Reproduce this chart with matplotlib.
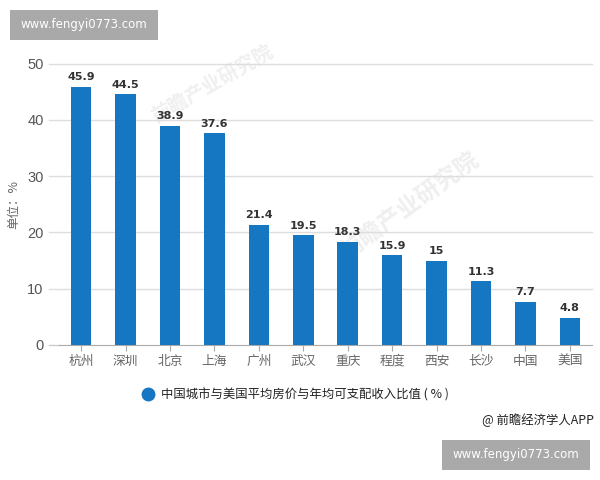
import matplotlib
matplotlib.use('Agg')
from matplotlib import pyplot as plt
from matplotlib.patches import Rectangle

plt.rcParams['font.family'] = ['Noto Sans CJK SC', 'DejaVu Sans']

cities = ['杭州', '深圳', '北京', '上海', '广州', '武汉', '重庆', '程度', '西安', '长沙', '中国', '美国']
ratios = [45.9, 44.5, 38.9, 37.6, 21.4, 19.5, 18.3, 15.9, 15, 11.3, 7.7, 4.8]
yticks = [0, 10, 20, 30, 40, 50]
blue = '#1576c2'
W, H = 600, 480

fig = plt.figure(figsize=(6, 4.8), dpi=100)
# plot area in pixels: x 59-592, y 63.5-345
ax = fig.add_axes([59/W, 1-345/H, (592-59)/W, (345-63.5)/H])
ax.set_zorder(2)

# faint watermark behind the bars
for x, y, size, rot, txt in [(212, 84, 14, 30, '前瞻产业研究院'), (410, 206, 17, 36, '前瞻产业研究院')]:
    fig.text(x/W, 1-y/H, txt, color='#efefef', fontsize=size, rotation=rot,
             ha='center', va='center', weight='bold', zorder=0)

ax.patch.set_alpha(0)
ax.bar(range(len(cities)), ratios, width=0.46, color=blue, zorder=3)
for i, v in enumerate(ratios):
    ax.text(i, v + 0.8, str(v), ha='center', va='bottom', fontsize=8,
            weight='bold', color='#333333', family='DejaVu Sans', zorder=4)

ax.set_xlim(-0.5, len(cities)-0.5)
ax.set_ylim(0, 50)
ax.set_yticks(yticks)
ax.set_xticks(range(len(cities)))
ax.set_xticklabels(cities, fontsize=9.2, color='#666666')
ax.tick_params(axis='x', length=4, color='#aaaaaa', pad=3)
ax.tick_params(axis='y', length=0, pad=11, labelsize=10.5, labelcolor='#555555')
for lab in ax.get_yticklabels():
    lab.set_family('Liberation Sans')
for y in yticks[1:]:
    ax.plot([-0.72, 11.5], [y, y], color='#dddddd', lw=1, clip_on=False, zorder=1)
ax.plot([-0.72, -0.5], [0, 0], color='#cccccc', lw=1, clip_on=False, zorder=1)
for s in ['top', 'right', 'left']:
    ax.spines[s].set_visible(False)
ax.spines['bottom'].set_color('#aaaaaa')

fig.text(14/W, 1-205/H, '单位：%', rotation=90, fontsize=9, color='#666666', ha='center', va='center')

# legend
fig.add_artist(plt.Line2D([147.5/W], [1-394/H], marker='o', ms=9, color=blue, ls=''))
fig.text(161/W, 1-394.5/H, '中国城市与美国平均房价与年均可支配收入比值 ( % )', fontsize=8.9,
         color='#222222', ha='left', va='center')
fig.text(594/W, 1-420/H, '@ 前瞻经济学人APP', fontsize=8.9, color='#222222', ha='right', va='center')

# site stamps
for x, y in [(10, 10), (442, 440)]:
    fig.add_artist(Rectangle((x/W, 1-(y+30)/H), 148/W, 30/H, transform=fig.transFigure,
                             facecolor='#a9a9a9', edgecolor='none'))
    fig.text((x+74)/W, 1-(y+14.5)/H, 'www.fengyi0773.com', fontsize=8.5, color='white',
             ha='center', va='center', family='DejaVu Sans')

fig.savefig('out.png', dpi=100)
